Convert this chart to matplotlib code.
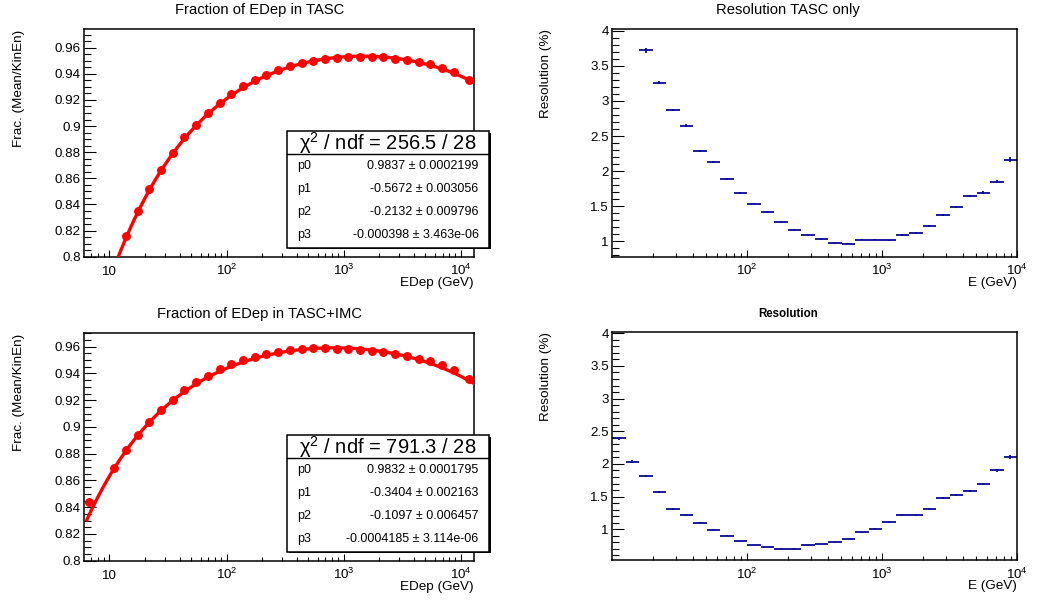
import numpy as np
import matplotlib
matplotlib.use("Agg")
import matplotlib.pyplot as plt
import matplotlib.transforms as mtransforms
from matplotlib.patches import Rectangle
from matplotlib.lines import Line2D
from matplotlib.ticker import FixedLocator, MultipleLocator, NullFormatter

plt.rcParams["font.family"] = ["Liberation Sans", "DejaVu Sans"]
plt.rcParams["mathtext.fontset"] = "custom"
plt.rcParams["mathtext.rm"] = "Liberation Sans"
plt.rcParams["mathtext.it"] = "Liberation Sans:italic"
plt.rcParams["mathtext.bf"] = "Liberation Sans:bold"
plt.rcParams["mathtext.default"] = "regular"

W, H = 1039, 601

# ---------------- fraction of deposited energy ----------------
# TASC only: mean deposited energy (GeV) and Mean/KinEn
tasc_edep = [13.8, 17.4, 21.9, 27.5, 34.7, 43.7, 55.0, 69.2, 87.1, 109.6,
             138, 174, 219, 275, 347, 437, 550, 692, 871, 1096,
             1380, 1738, 2188, 2754, 3467, 4365, 5495, 6918, 8710, 11885]
tasc_frac = [0.8156, 0.8347, 0.8520, 0.8661, 0.8794, 0.8914, 0.9008, 0.9098, 0.9177, 0.9243,
             0.9307, 0.9353, 0.9393, 0.9429, 0.9460, 0.9483, 0.9501, 0.9513, 0.9521, 0.9526,
             0.9531, 0.9529, 0.9529, 0.9516, 0.9504, 0.9488, 0.9475, 0.9447, 0.9412, 0.9353]
tasc_par = [0.9837, -0.5672, -0.2132, -0.000398]
tasc_par_err = [0.0002199, 0.003056, 0.009796, 3.463e-06]
tasc_chi2, tasc_ndf = 256.5, 28

# TASC+IMC
imc_edep = [6.72, 11.0, 13.8, 17.4, 21.9, 27.5, 34.7, 43.7, 55.0, 69.2, 87.1, 109.6,
            138, 174, 219, 275, 347, 437, 550, 692, 871, 1096,
            1380, 1738, 2188, 2754, 3467, 4365, 5495, 6918, 8710, 11885]
imc_frac = [0.8441, 0.8691, 0.8825, 0.8937, 0.9037, 0.9124, 0.9204, 0.9274, 0.9334, 0.9383,
            0.9431, 0.9468, 0.9503, 0.9523, 0.9548, 0.9560, 0.9575, 0.9580, 0.9588, 0.9588,
            0.9585, 0.9580, 0.9578, 0.9568, 0.9560, 0.9545, 0.9528, 0.9508, 0.9491, 0.9463,
            0.9424, 0.9361]
imc_par = [0.9832, -0.3404, -0.1097, -0.0004185]
imc_par_err = [0.0001795, 0.002163, 0.006457, 3.114e-06]
imc_chi2, imc_ndf = 791.3, 28

fit_range = (6.4, 12800.0)

# ---------------- energy resolution ----------------
# 30 logarithmic energy bins between 10 GeV and 10 TeV
res_edges = np.logspace(1, 4, 31)
res_tasc = [np.nan, np.nan, 3.72, 3.26, 2.87, 2.65, 2.29, 2.13, 1.885, 1.69,
            1.535, 1.42, 1.28, 1.165, 1.085, 1.03, 0.97, 0.965, 1.02, 1.02,
            1.015, 1.09, 1.115, 1.22, 1.38, 1.49, 1.645, 1.695, 1.85, 2.165]
res_tasc_err = [0, 0, 0.035, 0.025, 0.02, 0.02, 0.015, 0.015, 0.012, 0.01,
                0.01, 0.01, 0.008, 0.008, 0.008, 0.008, 0.008, 0.008, 0.008, 0.008,
                0.008, 0.01, 0.01, 0.012, 0.015, 0.015, 0.02, 0.02, 0.025, 0.035]
res_all = [2.39, 2.035, 1.815, 1.57, 1.31, 1.215, 1.10, 0.99, 0.90, 0.82,
           0.76, 0.73, 0.70, 0.70, 0.755, 0.775, 0.80, 0.85, 0.955, 1.005,
           1.11, 1.215, 1.215, 1.315, 1.475, 1.525, 1.58, 1.69, 1.90, 2.11]
res_all_err = [0.03, 0.02, 0.015, 0.012, 0.01, 0.01, 0.008, 0.008, 0.006, 0.006,
               0.006, 0.006, 0.006, 0.006, 0.006, 0.006, 0.006, 0.006, 0.008, 0.008,
               0.008, 0.01, 0.01, 0.01, 0.012, 0.015, 0.015, 0.02, 0.025, 0.03]

RED = "#ff0000"
NAVY = "#0a0a96"
TICK_FS = 9.6
LABEL_FS = 9.7
TITLE_FS = 10.6


def fx(px):
    return px / W


def fy(py):
    return 1.0 - py / H


def fit_func(e, p):
    e = np.asarray(e, dtype=float)
    return p[0] + p[1] / np.sqrt(e) + p[2] / e + p[3] * np.sqrt(e)


def make_axes(left, right, top, bottom):
    ax = fig.add_axes([fx(left), fy(bottom), (right - left) / W, (bottom - top) / H])
    for s in ax.spines.values():
        s.set_linewidth(1.1)
    ax.set_xscale("log")
    ax.tick_params(which="both", direction="in", top=False, right=False,
                   width=0.8, labelsize=TICK_FS, labelbottom=False)
    ax.tick_params(axis="y", which="major", length=8.8, pad=2.2)
    ax.tick_params(axis="y", which="minor", length=4.7)
    ax.tick_params(axis="x", which="major", length=5.4)
    ax.tick_params(axis="x", which="minor", length=3.0)
    ax.xaxis.set_minor_locator(FixedLocator(
        [m * 10.0 ** k for k in range(0, 5) for m in range(2, 10)]))
    ax.xaxis.set_minor_formatter(NullFormatter())
    ax.yaxis.set_major_formatter(plt.FuncFormatter(lambda v, _: f"{v:g}"))
    return ax


def x_tick_labels(ax, values, height_px):
    trans = mtransforms.blended_transform_factory(ax.transData, ax.transAxes)
    y = -18.3 / height_px
    for v in values:
        k = int(round(np.log10(v)))
        txt = "10" if k == 1 else rf"$10^{{{k}}}$"
        ax.text(v, y, txt, transform=trans, ha="center", va="baseline",
                fontsize=TICK_FS, clip_on=False)
    ax.xaxis.set_major_locator(FixedLocator(values))


def x_title(ax, text, height_px):
    ax.text(1.0, -29.0 / height_px, text, transform=ax.transAxes,
            ha="right", va="baseline", fontsize=LABEL_FS)


def stats_box(top, par, err, chi2, ndf):
    left, right = 287, 489.3
    bottom = top + 116.7
    fig.add_artist(Rectangle((fx(left + 1.5), fy(bottom + 1.5)), (right - left) / W,
                             (bottom - top) / H, transform=fig.transFigure,
                             facecolor="black", edgecolor="none", zorder=9))
    fig.add_artist(Rectangle((fx(left), fy(bottom)), (right - left) / W, (bottom - top) / H,
                             transform=fig.transFigure, facecolor="white",
                             edgecolor="black", linewidth=1.1, zorder=10))
    sep = top + 23.3
    fig.add_artist(Line2D([fx(left), fx(right)], [fy(sep), fy(sep)],
                          transform=fig.transFigure, color="black", lw=1.0, zorder=11))
    fig.text(fx((left + right) / 2), fy(top + 11.7),
             f"χ$^{{2}}$ / ndf = {chi2:.4g} / {ndf:d}",
             ha="center", va="center", fontsize=14.5, zorder=12)
    for i, (v, e) in enumerate(zip(par, err)):
        yrow = top + 34.7 + i * 23.2
        fig.text(fx(left + 9.7), fy(yrow), f"p{i}", ha="left", va="center",
                 fontsize=9, zorder=12)
        fig.text(fx(right - 10.6), fy(yrow), f"{v:.4g} ± {e:.4g}",
                 ha="right", va="center", fontsize=9, zorder=12)


fig = plt.figure(figsize=(W / 100, H / 100), dpi=100)

# ---- left column: fraction of deposited energy ----
for top, bottom, edep, frac, par, err, chi2, ndf, ytop, title in [
    (28.7, 256.7, tasc_edep, tasc_frac, tasc_par, tasc_par_err, tasc_chi2, tasc_ndf,
     0.9745, "Fraction of EDep in TASC"),
    (332.7, 560.7, imc_edep, imc_frac, imc_par, imc_par_err, imc_chi2, imc_ndf,
     0.9705, "Fraction of EDep in TASC+IMC"),
]:
    ax = make_axes(84, 474, top, bottom)
    ax.set_xlim(6.06, 13000)
    ax.set_ylim(0.8, ytop)
    ax.yaxis.set_major_locator(MultipleLocator(0.02))
    ax.yaxis.set_minor_locator(MultipleLocator(0.005))
    xs = np.logspace(np.log10(fit_range[0]), np.log10(fit_range[1]), 400)
    ax.plot(xs, fit_func(xs, par), color=RED, lw=2.4, zorder=3)
    ax.plot(edep, frac, "o", color=RED, ms=5.4, zorder=4)
    x_tick_labels(ax, [10, 100, 1000, 10000], bottom - top)
    x_title(ax, "EDep (GeV)", bottom - top)
    fig.text(fx(19), fy(top + 1.5), "Frac. (Mean/KinEn)", rotation=90,
             ha="center", va="top", fontsize=LABEL_FS)
    fig.text(fx(259.5), fy(top - 18.7), title, ha="center", va="center",
             fontsize=TITLE_FS)
    stats_box(top + 102.3, par, err, chi2, ndf)

# ---- right column: energy resolution ----
centers = np.sqrt(res_edges[:-1] * res_edges[1:])
xerr = np.vstack([centers - res_edges[:-1], res_edges[1:] - centers])
for top, bottom, vals, verr, ylim, title, bold in [
    (28.7, 256.7, res_tasc, res_tasc_err, (0.78, 4.03), "Resolution TASC only", False),
    (332.3, 560.3, res_all, res_all_err, (0.525, 4.015), "Resolution", True),
]:
    ax = make_axes(612, 1017, top, bottom)
    ax.set_xlim(10, 10000)
    ax.set_ylim(*ylim)
    ax.yaxis.set_major_locator(MultipleLocator(0.5))
    ax.yaxis.set_minor_locator(MultipleLocator(0.1))
    ax.errorbar(centers, vals, xerr=xerr, yerr=verr, fmt="none",
                ecolor=NAVY, elinewidth=1.3, capsize=0)
    x_tick_labels(ax, [100, 1000, 10000], bottom - top)
    x_title(ax, "E (GeV)", bottom - top)
    fig.text(fx(546), fy(top), "Resolution (%)", rotation=90,
             ha="center", va="top", fontsize=LABEL_FS)
    if bold:
        fig.text(fx(788), fy(top - 18), title, ha="center", va="center",
                 fontsize=8.3, fontweight="bold")
    else:
        fig.text(fx(788), fy(top - 18.7), title, ha="center", va="center",
                 fontsize=TITLE_FS)

fig.savefig("out.png", dpi=100)
